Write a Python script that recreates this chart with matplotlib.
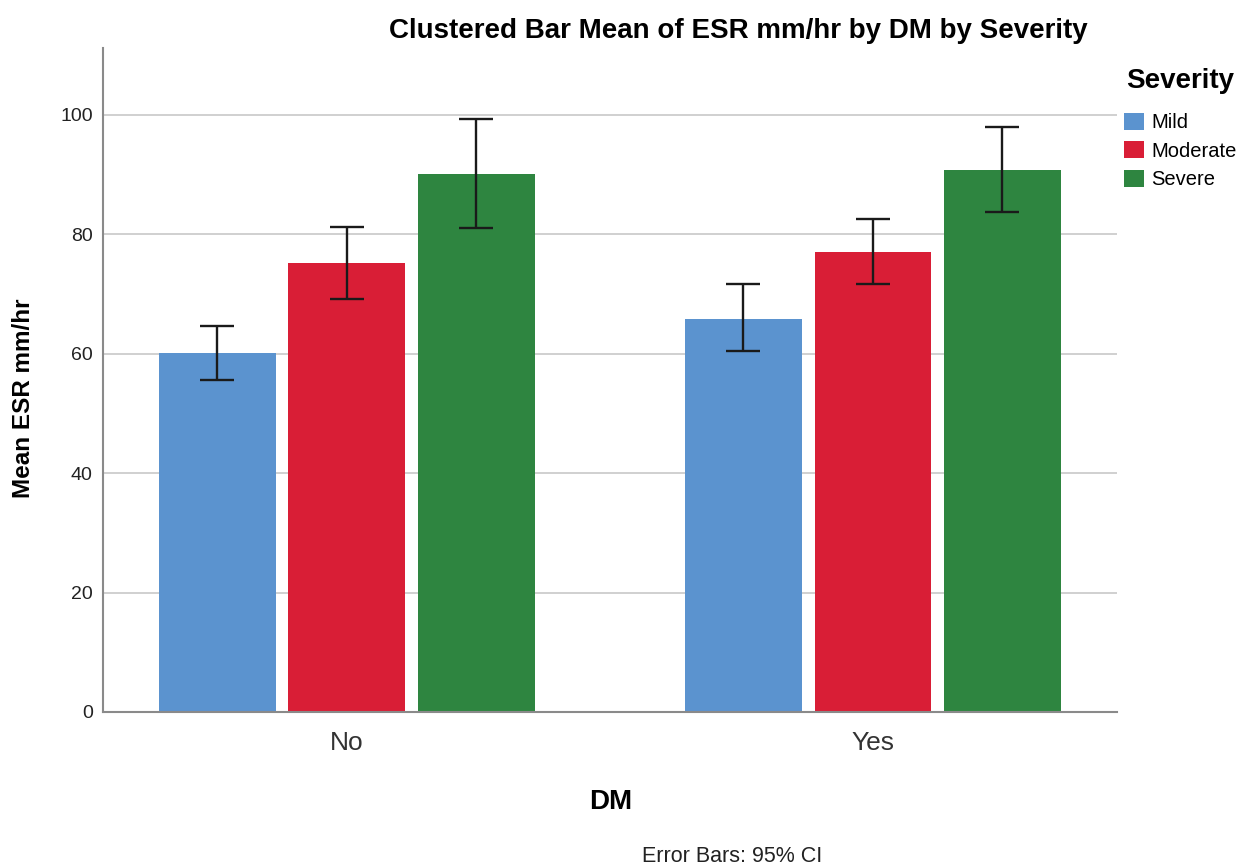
import matplotlib
matplotlib.use("Agg")
import matplotlib.pyplot as plt
import matplotlib.patches as mpatches
import numpy as np

plt.rcParams['font.family'] = ['Liberation Sans', 'DejaVu Sans']

# data
dm_groups = ['No', 'Yes']
severity = ['Mild', 'Moderate', 'Severe']
colors = ['#5B93CF', '#D91E36', '#2E8540']

mean_mild = [60.1, 65.9]
mean_moderate = [75.2, 77.1]
mean_severe = [90.1, 90.8]

ci_low_mild = [55.6, 60.4]
ci_high_mild = [64.7, 71.7]
ci_low_moderate = [69.1, 71.7]
ci_high_moderate = [81.3, 82.5]
ci_low_severe = [81.0, 83.8]
ci_high_severe = [99.4, 98.0]

means = [mean_mild, mean_moderate, mean_severe]
lows = [ci_low_mild, ci_low_moderate, ci_low_severe]
highs = [ci_high_mild, ci_high_moderate, ci_high_severe]

fig = plt.figure(figsize=(12.58, 8.67), dpi=100)
ax = fig.add_axes([0.0815, 0.1788, 0.8065, 0.7657])

x = np.arange(len(dm_groups))
width = 0.222
step = 0.246

for i, sev in enumerate(severity):
    pos = x + (i - 1) * step
    m = np.array(means[i])
    lo = np.array(lows[i])
    hi = np.array(highs[i])
    ax.bar(pos, m, width, color=colors[i], label=sev, zorder=2)
    ax.errorbar(pos, m, yerr=[m - lo, hi - m], fmt='none', ecolor='#1a1a1a',
                elinewidth=1.7, capsize=12, capthick=1.7, zorder=3)

ax.set_xlim(-0.464, 1.464)
ax.set_ylim(0, 111.2)
ax.set_yticks([0, 20, 40, 60, 80, 100])
ax.set_xticks(x)
ax.set_xticklabels(dm_groups, fontsize=19, color='#333333')
ax.tick_params(axis='y', length=0, labelsize=14, pad=7, labelcolor='#222222')
ax.tick_params(axis='x', length=0, pad=14)
ax.yaxis.grid(True, color='#c8c8c8', linewidth=1.2, zorder=0)
ax.set_axisbelow(True)

for s in ['top', 'right']:
    ax.spines[s].set_visible(False)
for s in ['left', 'bottom']:
    ax.spines[s].set_color('#8a8a8a')
    ax.spines[s].set_linewidth(1.5)

# axis titles
fig.text(0.019, 0.541, 'Mean ESR mm/hr', rotation=90, ha='center', va='center',
         fontsize=17.5, fontweight='bold')
fig.text(0.4853, 0.0745, 'DM', ha='center', va='center', fontsize=20,
         fontweight='bold')

fig.text(0.587, 0.964, 'Clustered Bar Mean of ESR mm/hr by DM by Severity',
         ha='center', va='center', fontsize=20, fontweight='bold')
fig.text(0.510, 0.0125, 'Error Bars: 95% CI', ha='left', va='center', fontsize=15.5,
         color='#222222')

handles = [mpatches.Patch(facecolor=c, label=s) for c, s in zip(colors, severity)]
leg = fig.legend(handles=handles, loc='upper left', bbox_to_anchor=(0.8935, 0.922),
                 frameon=False, fontsize=14.5, title='Severity',
                 handlelength=1.0, handleheight=0.9, handletextpad=0.35,
                 labelspacing=0.45, borderaxespad=0, borderpad=0)
leg.get_title().set_fontweight('bold')
leg.get_title().set_fontsize(20)
leg._legend_box.sep = 14

fig.savefig('out.png', dpi=100, facecolor='white')
